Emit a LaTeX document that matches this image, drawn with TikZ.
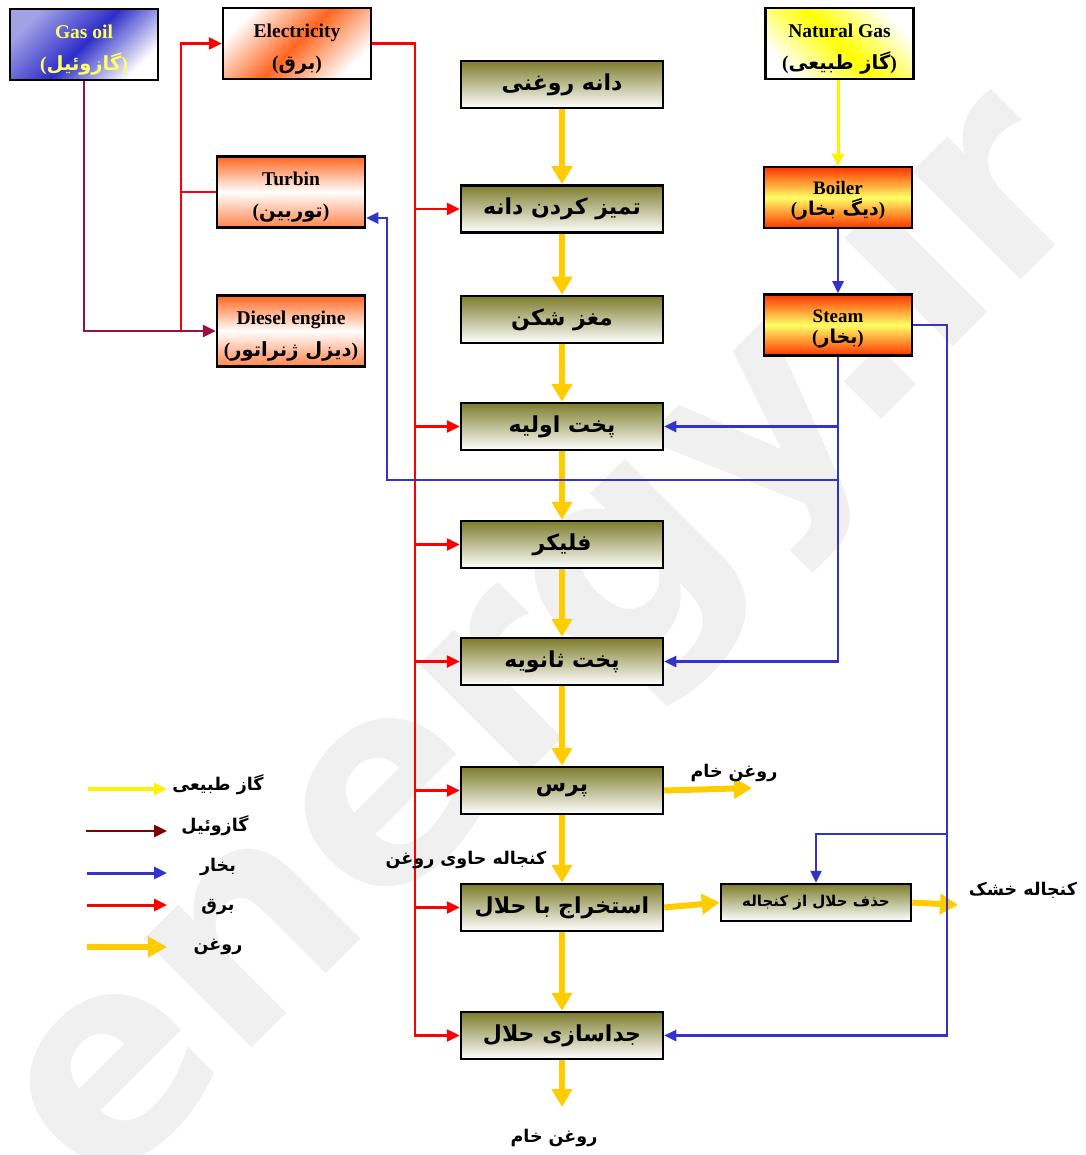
\documentclass[tikz,border=0pt]{standalone}
\usepackage{fontspec}
\setmainfont{Liberation Serif}
\newfontfamily\fa[Script=Arabic]{DejaVu Sans}
\newfontfamily\wmfont{DejaVu Sans}
\TeXXeTstate=1
\usetikzlibrary{arrows.meta,calc}
\definecolor{gold}{HTML}{FFCC00}
\definecolor{steamblue}{HTML}{3333CC}
\definecolor{gasred}{HTML}{99113F}
\definecolor{legdarkred}{HTML}{800000}
\definecolor{olivetop}{HTML}{7D7D2C}
\definecolor{orng}{HTML}{FF6620}
\definecolor{gasblue}{HTML}{2E2EC8}
\definecolor{boilred}{HTML}{FF3300}
\definecolor{boilyel}{HTML}{FFFF66}
\definecolor{txtyel}{HTML}{FFFF66}
\definecolor{wm}{HTML}{F0F0F0}
\newcommand\upstrut[1]{\rule{0pt}{#1pt}}
\begin{document}
\begin{tikzpicture}[x=1pt,y=-1pt,
  mainbox/.style={draw=black, line width=2.5pt, inner sep=0pt, minimum width=202pt, minimum height=47pt,
    top color=olivetop, bottom color=white, font=\fa\bfseries\fontsize{22}{26}\selectfont},
  ebox/.style={draw=black, line width=2.5pt, inner sep=0pt, minimum width=148pt, minimum height=71pt,
    align=center, font=\bfseries\fontsize{19.5}{32}\selectfont},
  rbox/.style={ebox, top color=orng, bottom color=orng!80!white, middle color=white},
  bbox/.style={ebox, minimum height=61pt, top color=boilred, bottom color=boilred, middle color=boilyel,
    font=\bfseries\fontsize{19}{21}\selectfont},
  oil/.style={draw=gold, line width=6pt, -{Triangle[length=18pt,width=20pt]}},
  elec/.style={draw=red, line width=2.5pt},
  elecarr/.style={elec, -{Triangle[length=13pt,width=12pt]}},
  stm/.style={draw=steamblue, line width=2.5pt},
  stmarr/.style={stm, -{Triangle[length=12pt,width=11pt]}},
  lbl/.style={font=\fa\bfseries\fontsize{17.5}{20}\selectfont, inner sep=0pt}
]
\path[use as bounding box] (0,0) rectangle (1085,1155);
% watermark
\node[rotate=45, text=wm, font=\wmfont\bfseries\fontsize{280}{280}\selectfont, inner sep=0pt] (wmk) at (548,645) {energy.ir};

% main column
\node[mainbox] (n1) at (562,84.5) {\beginR دانه روغنی\endR};
\node[mainbox] (n2) at (562,209) {\beginR تمیز کردن دانه\endR};
\node[mainbox] (n3) at (562,319.5) {\beginR مغز شکن\endR};
\node[mainbox] (n4) at (562,426.5) {\beginR پخت اولیه\endR};
\node[mainbox] (n5) at (562,544.5) {\beginR فلیکر\endR};
\node[mainbox] (n6) at (562,661.5) {\beginR پخت ثانویه\endR};
\node[mainbox] (n7) at (562,790.5) {\beginR پرس\endR};
\node[mainbox] (n8) at (562,907.5) {\beginR استخراج با حلال\endR};
\node[mainbox] (n9) at (562,1035.5) {\beginR جداسازی حلال\endR};
\node[mainbox, minimum width=190pt, minimum height=37pt, font=\fa\bfseries\fontsize{15}{18}\selectfont] (hz) at (816,902.5) {\beginR حذف حلال از کنجاله\endR};

% energy boxes
\node[ebox, left color=white!55!gasblue, right color=white, middle color=gasblue, shading angle=45, text=txtyel] (go) at (84,44.5) {\upstrut{25}Gas oil\\({\fa\beginR گازوئیل\endR})};
\node[ebox, left color=white, right color=white, middle color=orng, shading angle=45] (el) at (297,43.5) {\upstrut{25}Electricity\\({\fa\beginR برق\endR})};
\node[rbox] (tb) at (291,192) {\upstrut{23}Turbin\\({\fa\beginR توربین\endR})};
\node[rbox] (de) at (291,331) {\upstrut{24}Diesel engine\\({\fa\beginR دیزل ژنراتور\endR})};
\node[ebox, left color=white, right color=white, middle color=yellow, shading angle=135] (ng) at (839.5,43.5) {\upstrut{25}Natural Gas\\({\fa\beginR گاز طبیعی\endR})};
\node[bbox] (bo) at (838,197.5) {\upstrut{20}Boiler\\({\fa\beginR دیگ بخار\endR})};
\node[bbox] (st) at (838,325) {\upstrut{20}Steam\\({\fa\beginR بخار\endR})};

% free ends
\coordinate (o1) at (752,788);
\coordinate (o2) at (958,905);
\coordinate (o3) at (562,1107);
\coordinate (ex) at (415,0);
\coordinate (wx) at (181,0);
\coordinate (sj) at (838,480);
\coordinate (tj) at (387,480);
\coordinate (sr) at (947,0);

% oil flow
\draw[oil] (n1) -- (n2);
\draw[oil] (n2) -- (n3);
\draw[oil] (n3) -- (n4);
\draw[oil] (n4) -- (n5);
\draw[oil] (n5) -- (n6);
\draw[oil] (n6) -- (n7);
\draw[oil] (n7) -- (n8);
\draw[oil] (n8) -- (n9);
\draw[oil] (n9) -- (o3);
\draw[oil] (n7.east) -- (o1);
\draw[oil] (n8.east) -- (hz.west);
\draw[oil] (hz.east) -- (o2);

% electricity
\draw[elecarr] (el.east) -| (ex |- n9.west) -- (n9.west);
\foreach \n in {n2,n4,n5,n6,n7,n8}{\draw[elecarr] (ex |- \n.west) -- (\n.west);}
\draw[elecarr] (wx |- de.west) -- (wx |- el.west) -- (el.west);
\draw[elec] (tb.west) -- (wx |- tb.west);
% gas oil
\draw[draw=gasred, line width=2.5pt, -{Triangle[length=13pt,width=12pt]}] (go.south) |- (de.west);
% natural gas
\draw[draw=yellow, line width=3pt, -{Triangle[length=12pt,width=12pt]}] (bo.north |- ng.south) -- (bo.north);
% steam
\draw[stmarr] (bo) -- (st);
\draw[stmarr] (st.south) |- (n6.east);
\draw[stmarr] (st.south |- n4.east) -- (n4.east);
\draw[stmarr] (sj) -- (tj) -- ([yshift=-26pt]tb.east -| tj) -- ([yshift=-26pt]tb.east);
\draw[stmarr] (st.east) -| (sr |- n9.east) -- (n9.east);
\draw[stmarr] (sr |- 0,834) -| (hz.north);

% legend
\coordinate (la1) at (88,789); \coordinate (lb1) at (167,789);
\coordinate (la2) at (86,831); \coordinate (lb2) at (167,831);
\coordinate (la3) at (87,873); \coordinate (lb3) at (167,873);
\coordinate (la4) at (87,905); \coordinate (lb4) at (167,905);
\coordinate (la5) at (87,947); \coordinate (lb5) at (167,947);
\draw[draw=yellow, line width=4.5pt, -{Triangle[length=13pt,width=12pt]}] (la1) -- (lb1);
\draw[draw=legdarkred, line width=2.5pt, -{Triangle[length=13pt,width=12pt]}] (la2) -- (lb2);
\draw[draw=steamblue, line width=3pt, -{Triangle[length=13pt,width=12pt]}] (la3) -- (lb3);
\draw[draw=red, line width=3pt, -{Triangle[length=13pt,width=12pt]}] (la4) -- (lb4);
\draw[draw=gold, line width=6pt, -{Triangle[length=19pt,width=20pt]}] (la5) -- (lb5);
\node[lbl] (t1) at (218,785) {\beginR گاز طبیعی\endR};
\node[lbl] (t2) at (215,826) {\beginR گازوئیل\endR};
\node[lbl] (t3) at (218,867) {\beginR بخار\endR};
\node[lbl] (t4) at (218,907) {\beginR برق\endR};
\node[lbl] (t5) at (218,947) {\beginR روغن\endR};

% labels
\node[lbl] (k1) at (734,773) {\beginR روغن خام\endR};
\node[lbl] (k2) at (466,860) {\beginR کنجاله حاوی روغن\endR};
\node[lbl] (k3) at (1023,890) {\beginR کنجاله خشک\endR};
\node[lbl] (k4) at (554,1138) {\beginR روغن خام\endR};
\end{tikzpicture}
\end{document}
